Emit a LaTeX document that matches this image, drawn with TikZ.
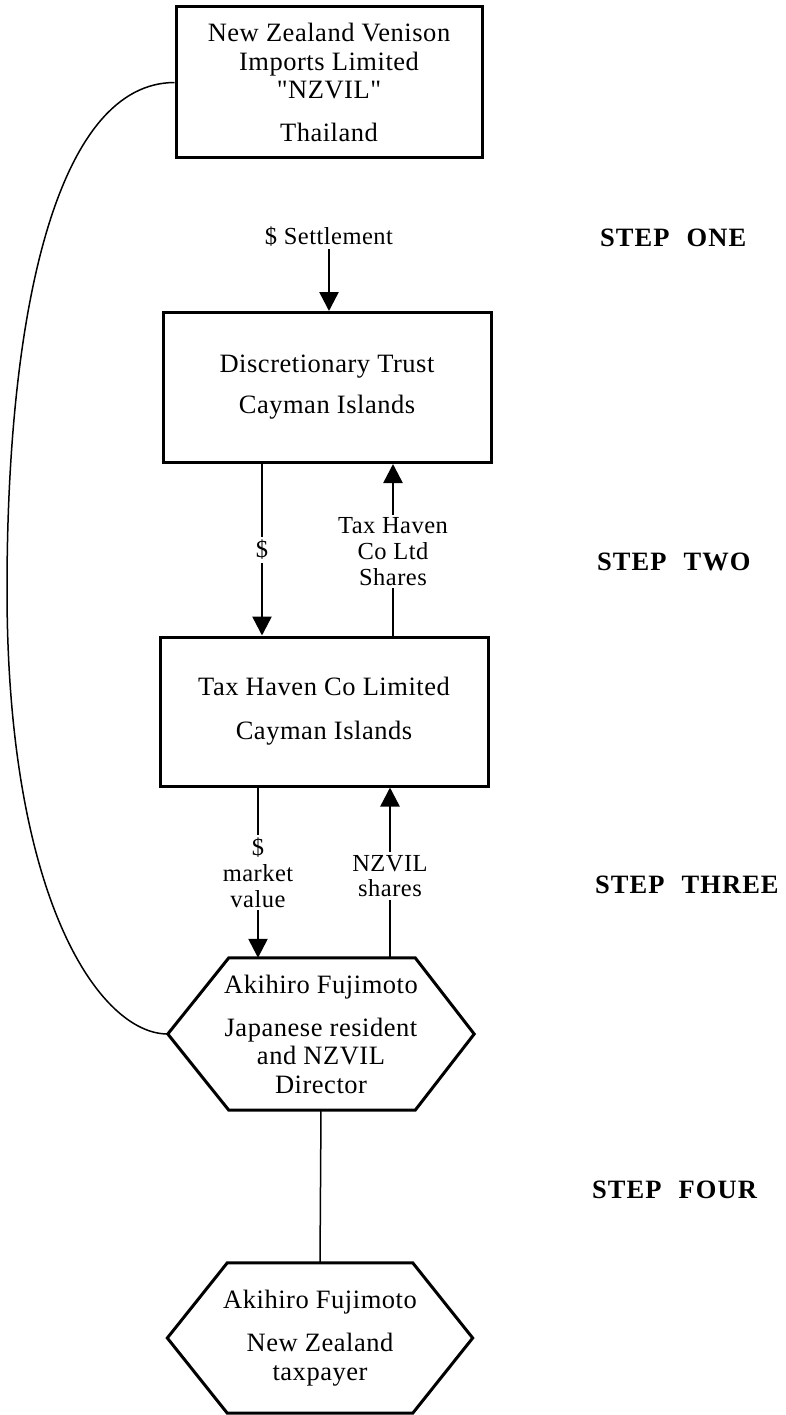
\documentclass[tikz,border=0pt]{standalone}
\usepackage{fontspec}
\setmainfont{Liberation Serif}[Ligatures=TeXOff,LetterSpace=2]
\newfontfamily\stepfont{Liberation Serif}[LetterSpace=4]
\usetikzlibrary{arrows.meta,calc}
\tikzset{
  boxnode/.style={draw, line width=3pt, inner sep=0pt, align=center,
    font=\fontsize{26.5}{28.5}\selectfont},
  hexnode/.style={inner sep=0pt, align=center,
    font=\fontsize{26.5}{28.5}\selectfont},
  hexline/.style={line width=3pt, line join=miter},
  arr/.style={line width=2.5pt, -{Triangle[width=19pt,length=19pt]}},
  lbl/.style={fill=white, inner sep=3pt, align=center,
    font=\fontsize{24.5}{25.8}\selectfont},
  steplbl/.style={anchor=west, inner sep=0pt, font=\stepfont\bfseries\fontsize{26.5}{28}\selectfont},
  thinline/.style={line width=1.5pt}
}
\begin{document}
\begin{tikzpicture}[x=1pt,y=-1pt]
\useasboundingbox (0,0) rectangle (786,1415);

% boxes
\node[boxnode, minimum width=306pt, minimum height=151pt] (nzvil) at (329,82.5)
  {New Zealand Venison\\Imports Limited\\"NZVIL"\\[14.5pt]Thailand};
\node[boxnode, minimum width=328pt, minimum height=150pt] (dt) at (327,387.5)
  {Discretionary Trust\\[12.5pt]Cayman Islands};
\node[boxnode, minimum width=328pt, minimum height=149pt] (th) at (324,711.5)
  {Tax Haven Co Limited\\[15.5pt]Cayman Islands};

% hexagons
\node[hexnode, minimum width=306pt, minimum height=152pt] (h1) at (321,1034)
  {Akihiro Fujimoto\\[14.5pt]Japanese resident\\and NZVIL\\Director};
\draw[hexline] (h1.west) -- ([xshift=61pt]h1.north west) -- ([xshift=-59pt]h1.north east)
  -- (h1.east) -- ([xshift=-59pt]h1.south east) -- ([xshift=61pt]h1.south west) -- cycle;

\node[hexnode, minimum width=305pt, minimum height=150pt] (h2) at (320,1338)
  {Akihiro Fujimoto\\[14.5pt]New Zealand\\taxpayer};
\draw[hexline] (h2.west) -- ([xshift=60pt]h2.north west) -- ([xshift=-60pt]h2.north east)
  -- (h2.east) -- ([xshift=-60pt]h2.south east) -- ([xshift=60pt]h2.south west) -- cycle;

% step labels
\node[steplbl] (s1) at (600,238) {STEP\hspace{17pt}ONE};
\node[steplbl] (s2) at (597,562) {STEP\hspace{17pt}TWO};
\node[steplbl] (s3) at (595,885) {STEP\hspace{17pt}THREE};
\node[steplbl] (s4) at (592,1190) {STEP\hspace{17pt}FOUR};

% settlement arrow
\node[font=\fontsize{24.5}{25.8}\selectfont, inner sep=2pt] (settle) at (329,237) {\$ Settlement};
\draw[arr] (settle.south) -- (settle.south |- dt.north);

% x positions of vertical arrows
\coordinate (xa) at (262,0);
\coordinate (xb) at (393,0);
\coordinate (xc) at (258,0);
\coordinate (xd) at (390,0);

% step two
\draw[arr] (xa |- dt.south) -- (xa |- th.north)
  node[lbl, midway] (l1) {\$};
\draw[arr] (xb |- th.north) -- (xb |- dt.south)
  node[lbl, pos=0.49] (l2) {Tax Haven\\Co Ltd\\Shares};

% step three
\draw[arr] (xc |- th.south) -- (xc |- h1.north)
  node[lbl, pos=0.5] (l3) {\$\\market\\value};
\draw[arr] (xd |- h1.north) -- (xd |- th.south)
  node[lbl, pos=0.48] (l4) {NZVIL\\shares};

% step four connector
\draw[thinline] (h1.south) -- (h2.north);

% curve from NZVIL to director
\coordinate (cmid) at (7,590);
\draw[thinline] (nzvil.west) .. controls (60,83) and (7,300) .. (cmid)
  .. controls (7,900) and (100,1034) .. (h1.west);
\end{tikzpicture}
\end{document}
